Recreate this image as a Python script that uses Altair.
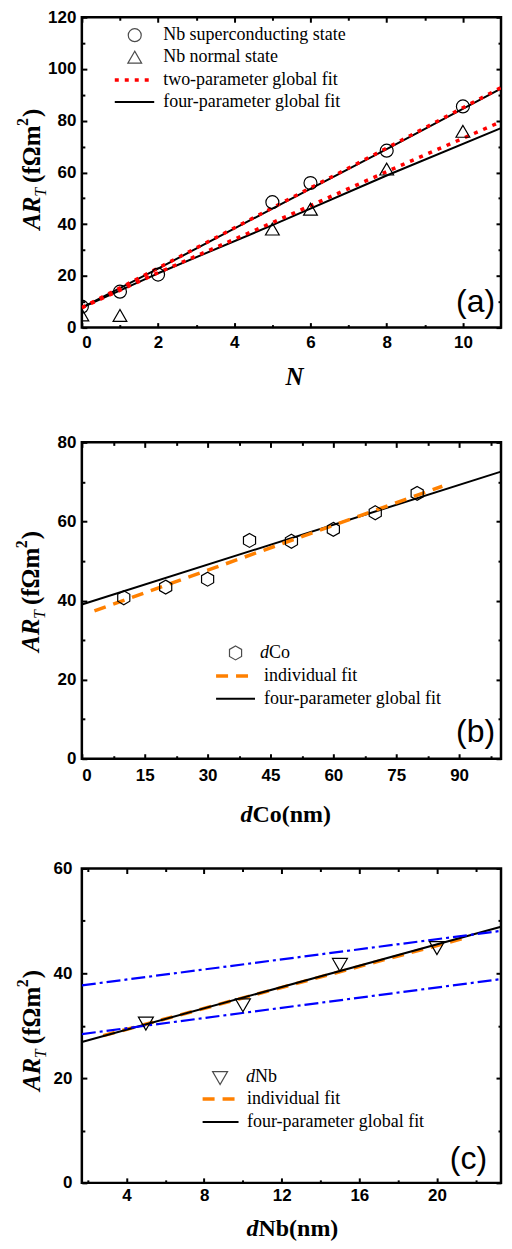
import altair as alt
import pandas as pd

# ---------------- data: panel (a) ----------------
a_n_sc = [0, 1, 2, 5, 6, 8, 10]
a_ar_sc = [8.1, 13.9, 20.5, 48.5, 55.9, 68.4, 85.5]
a_n_nm = [0, 1, 5, 6, 8, 10]
a_ar_nm = [4.9, 4.7, 38.1, 45.8, 61.3, 75.9]
a_fit_n = [0, 2, 5, 8, 11]
a_four_sc = [7.7, 22.8, 46.0, 69.0, 92.4]
a_four_nm = [7.7, 21.0, 39.6, 58.8, 77.1]
a_two_sc = [7.7, 23.0, 46.3, 69.4, 92.8]
a_two_nm = [7.7, 21.2, 40.6, 60.3, 79.6]
a_legend = ["Nb superconducting state", "Nb normal state",
            "two-parameter global fit", "four-parameter global fit"]
a_x_major = [0, 2, 4, 6, 8, 10]
a_x_ticks = [0, 1, 2, 3, 4, 5, 6, 7, 8, 9, 10]
a_y_major = [0, 20, 40, 60, 80, 100, 120]
a_y_ticks = [0, 10, 20, 30, 40, 50, 60, 70, 80, 90, 100, 110, 120]

# ---------------- data: panel (b) ----------------
b_dco = [10, 20, 30, 40, 50, 60, 70, 80]
b_ar = [40.7, 43.4, 45.4, 55.2, 55.0, 58.0, 62.2, 67.1]
b_global_x = [0, 100]
b_global_y = [39.0, 72.6]
b_indiv_x = [3, 86]
b_indiv_y = [37.4, 68.9]
b_legend = ["Co", "individual fit", "four-parameter global fit"]
b_x_major = [0, 15, 30, 45, 60, 75, 90]
b_x_ticks = [0, 7.5, 15, 22.5, 30, 37.5, 45, 52.5, 60, 67.5, 75, 82.5, 90, 97.5]
b_y_major = [0, 20, 40, 60, 80]
b_y_ticks = [0, 10, 20, 30, 40, 50, 60, 70, 80]

# ---------------- data: panel (c) ----------------
c_dnb = [5, 10, 15, 20]
c_ar = [30.4, 33.9, 41.6, 44.8]
c_global_x = [1.7, 23.3]
c_global_y = [26.9, 48.9]
c_indiv_x = [2.8, 21.3]
c_indiv_y = [28.1, 46.6]
c_bound_x = [1.7, 23.3]
c_upper_y = [37.7, 48.1]
c_lower_y = [28.4, 38.9]
c_legend = ["Nb", "individual fit", "four-parameter global fit"]
c_x_major = [4, 8, 12, 16, 20]
c_x_ticks = [2, 4, 6, 8, 10, 12, 14, 16, 18, 20, 22]
c_y_major = [0, 20, 40, 60]
c_y_ticks = [0, 10, 20, 30, 40, 50, 60]

SERIF = "Liberation Serif"
SANS = "Liberation Sans"
ONE = pd.DataFrame({"k": [0]})
ORANGE = "#FF8000"
HEX = "M0,-1L0.866,-0.5L0.866,0.5L0,1L-0.866,0.5L-0.866,-0.5Z"
W = 420
LEFT = -72


def txt(text, x, y, size, weight="normal", style="normal", align="left",
        baseline="middle", angle=None, font=SERIF):
    kw = dict(text=text, font=font, fontSize=size, fontWeight=weight,
              fontStyle=style, align=align, baseline=baseline, color="black")
    if angle is not None:
        kw["angle"] = angle
    return alt.Chart(ONE).mark_text(**kw).encode(x=alt.value(x), y=alt.value(y))


def ytitle(bx, by):
    return [
        txt("AR", bx, by, 25, "bold", "italic", baseline="alphabetic", angle=270),
        txt("T", bx + 6, by - 33, 16, "normal", "italic", baseline="alphabetic", angle=270),
        txt("(fΩm", bx, by - 47, 25, "bold", baseline="alphabetic", angle=270),
        txt("2", bx - 12, by - 104, 16, "bold", baseline="alphabetic", angle=270),
        txt(")", bx, by - 113, 25, "bold", baseline="alphabetic", angle=270),
    ]


def leg_point(shape, x, y, size):
    return alt.Chart(ONE).mark_point(shape=shape, size=size, filled=False, color="black",
                                     strokeWidth=1.2).encode(x=alt.value(x), y=alt.value(y))


def leg_rule(x1, x2, y, color, width, dash=None):
    kw = dict(color=color, strokeWidth=width)
    if dash is not None:
        kw["strokeDash"] = dash
    return alt.Chart(ONE).mark_rule(**kw).encode(x=alt.value(x1), x2=alt.value(x2), y=alt.value(y))


def panel(W, H, xdom, ydom, xmaj, xtk, xmod, ymaj, ytk, ymod, xpad, ypad,
          left, bottom, carrier, layers):
    xs = alt.Scale(domain=xdom, nice=False, zero=False)
    ys = alt.Scale(domain=ydom, nice=False, zero=False)

    def lab(values, orient, pad):
        return alt.Axis(values=values, orient=orient, ticks=False, tickSize=0, domain=False,
                        grid=False, title=None, labelFont=SANS, labelFontWeight="bold",
                        labelFontSize=17, labelColor="black", labelPadding=pad,
                        labelOverlap=False)

    def tk(values, orient, offset, mod):
        return alt.Axis(values=values, orient=orient, offset=offset, labels=False,
                        domain=False, grid=False, title=None, ticks=True,
                        tickColor="black", tickWidth=2,
                        tickSize={"condition": {"test": f"abs(datum.value % {mod}) < 0.000001",
                                                "value": 5}, "value": 3})

    base = alt.Chart(carrier).mark_point(opacity=0, clip=True)
    c0 = base.encode(x=alt.X("x:Q", scale=xs, axis=lab(xmaj, "bottom", xpad)),
                     y=alt.Y("y:Q", scale=ys, axis=lab(ymaj, "left", ypad)))
    c1 = base.encode(x=alt.X("x:Q", scale=xs, axis=tk(xtk, "top", -H, xmod)),
                     y=alt.Y("y:Q", scale=ys, axis=tk(ytk, "right", -W, ymod)))
    c2 = base.encode(x=alt.X("x:Q", scale=xs, axis=tk(xtk, "bottom", -H, xmod)),
                     y=alt.Y("y:Q", scale=ys, axis=tk(ytk, "left", -W, ymod)))
    built = []
    for item in layers:
        built.append(item(xs, ys) if callable(item) else item)
    anchors = [alt.Chart(ONE).mark_rule(opacity=0).encode(x=alt.value(left))]
    if bottom is not None:
        anchors.append(alt.Chart(ONE).mark_rule(opacity=0).encode(y=alt.value(bottom)))
    return alt.layer(c0, c1, c2, *built, *anchors).resolve_axis(
        x="independent", y="independent").properties(width=W, height=H)


def line_layer(df, color, width, dash=None, detail=False):
    def f(xs, ys):
        kw = dict(color=color, strokeWidth=width, clip=True, strokeJoin="round")
        if dash is not None:
            kw["strokeDash"] = dash
        enc = dict(x=alt.X("x:Q", scale=xs, axis=None), y=alt.Y("y:Q", scale=ys, axis=None))
        if detail:
            enc["detail"] = "s:N"
        return alt.Chart(df).mark_line(**kw).encode(**enc)
    return f


def point_layer(df, shape, size):
    def f(xs, ys):
        return alt.Chart(df).mark_point(shape=shape, size=size, filled=False, color="black",
                                        strokeWidth=1.2, opacity=1, clip=True).encode(
            x=alt.X("x:Q", scale=xs, axis=None), y=alt.Y("y:Q", scale=ys, axis=None))
    return f


# ---------------- panel (a) ----------------
a_sc = pd.DataFrame({"x": a_n_sc, "y": a_ar_sc})
a_nm = pd.DataFrame({"x": a_n_nm, "y": a_ar_nm})
a_four = pd.DataFrame({"x": a_fit_n + a_fit_n, "y": a_four_sc + a_four_nm,
                       "s": ["sc"] * len(a_fit_n) + ["nm"] * len(a_fit_n)})
a_two = pd.DataFrame({"x": a_fit_n + a_fit_n, "y": a_two_sc + a_two_nm,
                      "s": ["sc"] * len(a_fit_n) + ["nm"] * len(a_fit_n)})
HA = 311
pa = panel(W, HA, [0, 11], [0, 120], a_x_major, a_x_ticks, 2, a_y_major, a_y_ticks, 20,
           7, 6, LEFT, 413, a_sc, [
               line_layer(a_four, "black", 2, detail=True),
               line_layer(a_two, "red", 3.5, dash=[4, 6], detail=True),
               point_layer(a_sc, "circle", 169),
               point_layer(a_nm, "triangle-up", 190),
               leg_point("circle", 53, 18, 169),
               leg_point("triangle-up", 53, 40, 190),
               leg_rule(33, 72.5, 63, "red", 3.5, [4, 6]),
               leg_rule(33, 72.5, 85, "black", 2),
               txt(a_legend[0], 81.5, 18, 18),
               txt(a_legend[1], 81.5, 40, 18),
               txt(a_legend[2], 81.5, 63, 18),
               txt(a_legend[3], 81.5, 85, 18),
               txt("(a)", W - 6, 285, 32, font=SANS, align="right"),
               txt("N", W / 2 + 3, 369, 25, "bold", "italic", align="center", baseline="alphabetic"),
               *ytitle(-42, 213),
           ])

# ---------------- panel (b) ----------------
b_pts = pd.DataFrame({"x": b_dco, "y": b_ar})
b_glob = pd.DataFrame({"x": b_global_x, "y": b_global_y})
b_ind = pd.DataFrame({"x": b_indiv_x, "y": b_indiv_y})
HB = 317
pb = panel(W, HB, [0, 100], [0, 80], b_x_major, b_x_ticks, 15, b_y_major, b_y_ticks, 20,
           9, 6, LEFT, 414, b_pts, [
               line_layer(b_glob, "black", 2),
               line_layer(b_ind, ORANGE, 3.5, dash=[12, 8]),
               point_layer(b_pts, HEX, 196),
               leg_point(HEX, 154, 211, 196),
               leg_rule(134.5, 173.5, 234, ORANGE, 3.5, [12, 8]),
               leg_rule(134.5, 173.5, 257, "black", 2),
               txt("d", 178.5, 211, 18, style="italic"),
               txt(b_legend[0], 187.5, 211, 18),
               txt(b_legend[1], 182.5, 234, 18),
               txt(b_legend[2], 182.5, 257, 18),
               txt("(b)", W - 6, 290, 32, font=SANS, align="right"),
               txt("d", 171, 380, 24, "bold", "italic", align="right", baseline="alphabetic"),
               txt("Co(nm)", 171, 380, 24, "bold", baseline="alphabetic"),
               *ytitle(-43, 210),
           ])

# ---------------- panel (c) ----------------
c_pts = pd.DataFrame({"x": c_dnb, "y": c_ar})
c_glob = pd.DataFrame({"x": c_global_x, "y": c_global_y})
c_ind = pd.DataFrame({"x": c_indiv_x, "y": c_indiv_y})
c_bounds = pd.DataFrame({"x": c_bound_x + c_bound_x, "y": c_upper_y + c_lower_y,
                         "s": ["u"] * len(c_bound_x) + ["l"] * len(c_bound_x)})
HC = 315
pc = panel(W, HC, [1.7, 23.3], [0, 60], c_x_major, c_x_ticks, 4, c_y_major, c_y_ticks, 20,
           5, 10, LEFT, None, c_pts, [
               line_layer(c_ind, ORANGE, 3.5, dash=[12, 8]),
               line_layer(c_glob, "black", 2),
               line_layer(c_bounds, "#0000FF", 2.2, dash=[14, 4, 3, 4], detail=True),
               point_layer(c_pts, "triangle-down", 225),
               leg_point("triangle-down", 138.5, 210, 225),
               leg_rule(121, 157, 231, ORANGE, 3.5, [12, 8]),
               leg_rule(121, 157, 254, "black", 2),
               txt("d", 164.5, 209, 18, style="italic"),
               txt(c_legend[0], 173.5, 209, 18),
               txt(c_legend[1], 165.5, 231, 18),
               txt(c_legend[2], 165.5, 254, 18),
               txt("(c)", W - 14, 291, 32, font=SANS, align="right"),
               txt("d", 177, 368, 24, "bold", "italic", align="right", baseline="alphabetic"),
               txt("Nb(nm)", 177, 368, 24, "bold", baseline="alphabetic"),
               *ytitle(-42, 223),
           ])

chart = alt.concat(pa, pb, pc, columns=1, spacing=0, bounds="full",
                   align={"row": "none", "column": "all"}).properties(
    padding={"top": -3, "left": 0, "right": 0, "bottom": 0}, background="white"
).configure_view(stroke="black", strokeWidth=2.5)

chart.save("out.html", embed_options={"renderer": "svg", "actions": False})
